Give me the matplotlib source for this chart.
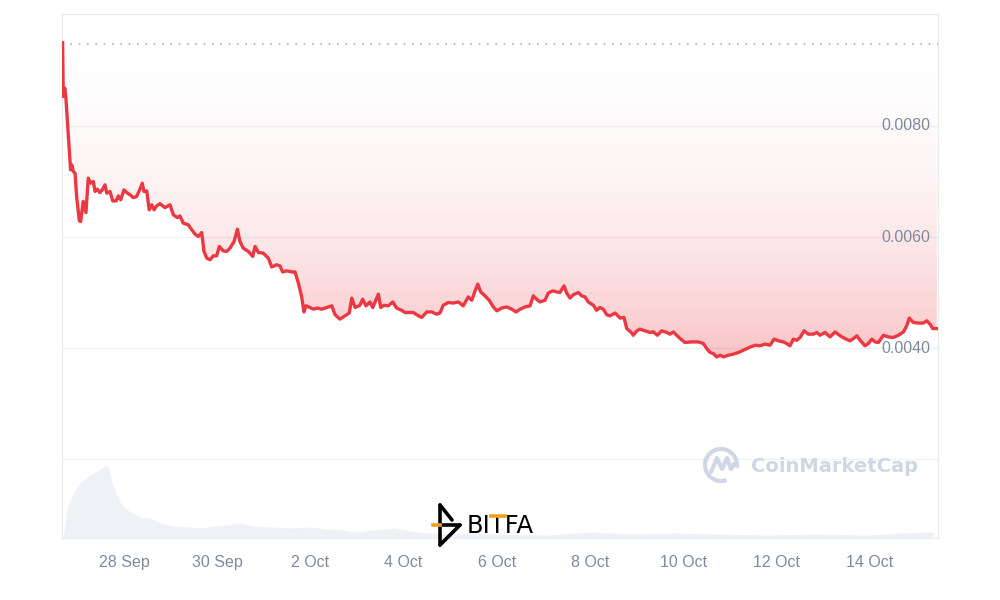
import numpy as np
import pandas as pd
import matplotlib
matplotlib.use("Agg")
import matplotlib.pyplot as plt
import matplotlib.dates as mdates
from matplotlib.lines import Line2D
from matplotlib.patches import Arc
from matplotlib.colors import LinearSegmentedColormap

# hours after 26 Sep 00:00
hours = [16.4, 16.7, 17.5, 18.1, 18.8, 20.5, 21.1, 21.9, 22.8, 23.6, 25.0, 25.7, 27.0, 28.4, 29.6,
         30.9, 32.2, 33.1, 34.3, 35.6, 37.0, 38.2, 39.1, 40.8, 42.2, 43.9, 45.1, 46.3, 48.0, 49.4,
         51.1, 52.8, 54.5, 56.2, 57.4, 58.3, 59.7, 61.0, 62.3, 63.5, 64.8, 66.5, 69.1, 71.7, 73.4,
         75.5, 76.8, 78.5, 81.1, 82.9, 84.6, 86.3, 88.0, 89.2, 90.6, 92.3, 94.0, 95.7, 97.1, 99.1,
         100.9, 102.6, 104.7, 106.4, 107.7, 109.4, 112.0, 114.3, 115.5, 117.2, 119.7, 122.3, 124.1, 126.6, 128.3,
         129.7, 131.8, 134.4, 136.1, 137.8, 139.5, 140.7, 141.7, 143.8, 145.5, 147.6, 149.8, 152.4, 155.0, 156.7,
         159.2, 161.8, 164.0, 165.3, 167.0, 169.5, 170.9, 172.6, 174.7, 176.1, 179.0, 180.2, 181.9, 184.1, 186.4,
         188.4, 191.0, 192.7, 194.4, 197.0, 198.7, 201.3, 203.9, 206.5, 209.0, 210.7, 212.4, 215.0, 217.6, 220.2,
         222.7, 225.3, 227.1, 228.8, 230.2, 231.7, 233.9, 236.1, 238.2, 240.0, 242.5, 245.1, 247.7, 249.9, 252.0,
         254.5, 257.1, 258.8, 260.5, 262.2, 264.8, 266.5, 268.8, 270.9, 272.5, 274.6, 276.0, 277.7, 279.4, 282.0,
         283.7, 285.4, 287.1, 289.7, 291.4, 293.1, 294.8, 296.6, 298.3, 300.9, 303.5, 305.5, 306.9, 309.0, 310.3,
         312.1, 313.7, 316.3, 318.9, 320.6, 322.7, 324.9, 327.5, 329.2, 330.9, 332.6, 334.4, 336.9, 340.4, 343.8,
         346.4, 348.1, 349.8, 351.5, 353.2, 355.0, 356.7, 359.2, 361.8, 364.4, 367.0, 370.0, 373.0, 375.6, 378.1,
         380.7, 382.8, 385.0, 387.6, 389.3, 391.0, 392.7, 394.5, 396.2, 398.2, 400.4, 403.0, 404.8, 406.5, 409.0,
         411.6, 414.2, 416.8, 419.3, 421.9, 423.6, 425.4, 427.1, 429.6, 431.3, 433.1, 434.8, 436.5, 439.1, 441.6,
         444.2, 446.8, 449.4, 451.1, 452.4, 454.5, 457.1, 459.7, 461.4, 463.1, 464.5, 466.6]

prices = [0.00950, 0.00853, 0.00868, 0.00850, 0.00811, 0.00721, 0.00730, 0.00718, 0.00715, 0.00673, 0.00629, 0.00628, 0.00664, 0.00644, 0.00706,
          0.00697, 0.00700, 0.00682, 0.00686, 0.00680, 0.00686, 0.00694, 0.00679, 0.00682, 0.00665, 0.00665, 0.00674, 0.00667, 0.00685, 0.00680,
          0.00676, 0.00671, 0.00673, 0.00686, 0.00697, 0.00682, 0.00683, 0.00649, 0.00658, 0.00649, 0.00656, 0.00660, 0.00653, 0.00658, 0.00640,
          0.00635, 0.00638, 0.00625, 0.00622, 0.00613, 0.00605, 0.00601, 0.00608, 0.00574, 0.00562, 0.00559, 0.00566, 0.00566, 0.00583, 0.00575,
          0.00574, 0.00580, 0.00592, 0.00614, 0.00592, 0.00580, 0.00574, 0.00565, 0.00583, 0.00572, 0.00571, 0.00562, 0.00546, 0.00550, 0.00548,
          0.00537, 0.00539, 0.00537, 0.00537, 0.00517, 0.00492, 0.00465, 0.00476, 0.00473, 0.00470, 0.00472, 0.00470, 0.00473, 0.00476, 0.00460,
          0.00452, 0.00458, 0.00463, 0.00490, 0.00473, 0.00477, 0.00488, 0.00476, 0.00483, 0.00473, 0.00497, 0.00473, 0.00477, 0.00476, 0.00483,
          0.00472, 0.00468, 0.00464, 0.00464, 0.00464, 0.00460, 0.00455, 0.00465, 0.00465, 0.00461, 0.00463, 0.00477, 0.00482, 0.00481, 0.00483,
          0.00476, 0.00492, 0.00486, 0.00503, 0.00515, 0.00501, 0.00494, 0.00486, 0.00474, 0.00467, 0.00472, 0.00474, 0.00470, 0.00465, 0.00470,
          0.00474, 0.00476, 0.00494, 0.00488, 0.00483, 0.00486, 0.00499, 0.00503, 0.00501, 0.00500, 0.00512, 0.00499, 0.00490, 0.00496, 0.00500,
          0.00494, 0.00492, 0.00483, 0.00477, 0.00468, 0.00473, 0.00470, 0.00460, 0.00458, 0.00463, 0.00454, 0.00455, 0.00435, 0.00429, 0.00423,
          0.00431, 0.00434, 0.00431, 0.00428, 0.00429, 0.00423, 0.00431, 0.00428, 0.00425, 0.00429, 0.00423, 0.00417, 0.00410, 0.00411, 0.00411,
          0.00408, 0.00399, 0.00392, 0.00390, 0.00384, 0.00387, 0.00384, 0.00387, 0.00389, 0.00392, 0.00396, 0.00401, 0.00405, 0.00404, 0.00407,
          0.00405, 0.00416, 0.00413, 0.00411, 0.00408, 0.00404, 0.00416, 0.00414, 0.00419, 0.00431, 0.00425, 0.00425, 0.00428, 0.00423, 0.00428,
          0.00420, 0.00429, 0.00422, 0.00417, 0.00413, 0.00417, 0.00422, 0.00414, 0.00404, 0.00408, 0.00416, 0.00411, 0.00410, 0.00423, 0.00420,
          0.00419, 0.00423, 0.00429, 0.00440, 0.00454, 0.00446, 0.00445, 0.00445, 0.00449, 0.00443, 0.00435, 0.00435]

vol_hours = [16.7, 18.5, 21.9, 25.3, 30.5, 35.6, 39.1, 40.4, 42.5, 45.9, 51.1, 56.2, 61.4, 66.5,
             73.4, 82.0, 87.1, 94.0, 100.9, 107.7, 114.6, 124.9, 135.2, 143.8, 152.4, 160.9, 167.8,
             176.4, 186.7, 193.6, 202.1, 210.7, 267.4, 286.3, 310.3, 330.9, 353.3, 379.0, 404.8,
             430.5, 447.7, 464.8]
volume = [0.13, 2.8, 4.5, 5.5, 6.3, 6.9, 7.3, 6.8, 5.1, 3.6, 2.6, 2.1, 2.0, 1.5,
          1.2, 1.1, 1.0, 1.2, 1.3, 1.5, 1.2, 1.1, 1.0, 1.1, 0.9, 0.8, 0.6,
          0.8, 1.0, 0.8, 0.5, 0.5, 0.3, 0.6, 0.4, 0.5, 0.4, 0.3, 0.4,
          0.3, 0.5, 0.6]

open_price = 0.00948
ytick_vals = [0.0040, 0.0060, 0.0080]
ytick_labels = ["0.0040", "0.0060", "0.0080"]
xtick_days = ["2023-09-28", "2023-09-30", "2023-10-02", "2023-10-04", "2023-10-06",
              "2023-10-08", "2023-10-10", "2023-10-12", "2023-10-14"]

RED = "#EA3943"
GREY_TXT = "#808A9C"

base = pd.Timestamp("2023-09-26")
t = base + pd.to_timedelta(hours, unit="h")
tv = base + pd.to_timedelta(vol_hours, unit="h")
x = mdates.date2num(t)
xv = mdates.date2num(tv)
p = np.array(prices)

fig = plt.figure(figsize=(10, 6), dpi=100)
ax = fig.add_axes([0.062, 0.1033, 0.876, 0.8734])
xlim = (mdates.date2num(base + pd.Timedelta(hours=16.07)), mdates.date2num(base + pd.Timedelta(hours=467.2)))
ax.set_xlim(xlim)
ax.set_ylim(0.000577, 0.010018)

# gridlines
for g in [0.002, 0.004, 0.006, 0.008]:
    ax.axhline(g, color="#EEF0F3", lw=1, zorder=0)

# gradient fill between price and open price
cmap = LinearSegmentedColormap.from_list("g", [(1, 1, 1, 0), (234/255, 57/255, 67/255, 0.30)])
im = ax.imshow(np.linspace(1, 0.08, 256).reshape(-1, 1) ** 1.1, cmap=cmap, aspect="auto",
               extent=[xlim[0], xlim[1], p.min(), open_price],
               origin="lower", zorder=1, vmin=0, vmax=1)
poly = ax.fill_between(x, p, open_price, color="none", lw=0)
im.set_clip_path(poly.get_paths()[0], transform=ax.transData)

ax.plot(x, p, color=RED, lw=2.4, zorder=3, solid_joinstyle="round")
ax.axhline(open_price, color="#A7B1C2", lw=1.2, linestyle=(0, (1, 4)), zorder=2)

# volume
ax2 = ax.twinx()
ax2.set_ylim(0, 52.4)
ax2.fill_between(xv, volume, 0, color="#EEF1F5", lw=0, zorder=1)
ax2.set_yticks([])
for s in ax2.spines.values():
    s.set_visible(False)

ax.set_yticks([])
for v, lab in zip(ytick_vals, ytick_labels):
    ax.text(0.9909, v, lab, transform=ax.get_yaxis_transform(), ha="right", va="center",
            fontsize=11.5, color=GREY_TXT, family="Liberation Sans", zorder=5)

ax.set_xticks(mdates.date2num(pd.to_datetime(xtick_days)))
ax.set_xticklabels([f"{d.day} {d:%b}" for d in pd.to_datetime(xtick_days)],
                   fontsize=11.5, color=GREY_TXT, family="Liberation Sans")
ax.tick_params(axis="x", length=0, pad=12.5)
for s in ax.spines.values():
    s.set_color("#E8EBEF")
    s.set_linewidth(1)


def fp(px, py):
    return px / 1000, 1 - py / 600


# CoinMarketCap watermark
wm = "#CFD6E4"
arc = Arc((7.21, 1.35), 0.32, 0.32, theta1=-10, theta2=290, transform=fig.dpi_scale_trans,
          color=wm, lw=3)
fig.add_artist(arc)
mx = [711, 717, 722, 727, 731, 734]
my = [472, 458, 469, 458, 469, 464]
fig.add_artist(Line2D([a / 1000 for a in mx], [1 - b / 600 for b in my], color=wm, lw=3,
                      solid_joinstyle="round", solid_capstyle="round", transform=fig.transFigure))
fig.text(*fp(751, 467), "CoinMarketCap", fontsize=14, fontweight="bold", color=wm,
         family="DejaVu Sans", ha="left", va="center")

# BITFA watermark
for seg in [([440, 440], [505, 545]), ([440, 452], [505, 520]), ([440, 460], [525, 525]),
            ([460, 440], [525, 545])]:
    fig.add_artist(Line2D([a / 1000 for a in seg[0]], [1 - b / 600 for b in seg[1]], color="black",
                          lw=2.6, solid_capstyle="round", transform=fig.transFigure))
fig.add_artist(Line2D([433 / 1000, 440 / 1000], [1 - 525 / 600] * 2, color="#F0A020", lw=2.6,
                      transform=fig.transFigure, zorder=6))
fig.text(*fp(467, 533), "BITFA", fontsize=17.5, color="black",
         family="DejaVu Sans", ha="left", va="baseline")
fig.add_artist(Line2D([491 / 1000, 505 / 1000], [1 - 515.5 / 600] * 2, color="#F0A020", lw=2.6,
                      transform=fig.transFigure, zorder=6))

fig.savefig("out.png", dpi=100, facecolor="white")
